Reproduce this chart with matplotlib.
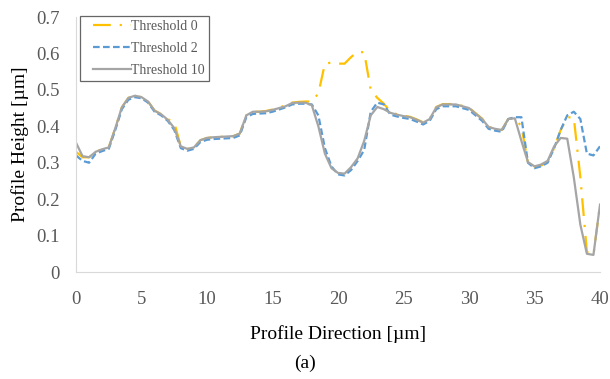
import matplotlib.pyplot as plt
from matplotlib.legend_handler import HandlerLine2D
import numpy as np

# Profile position (µm), sampled every 0.5 µm
x = np.arange(0, 40.5, 0.5)

# Threshold 10 (gray)
thr10 = [0.355, 0.318, 0.315, 0.330, 0.337, 0.342, 0.395, 0.452, 0.478, 0.484,
         0.480, 0.468, 0.443, 0.433, 0.418, 0.395, 0.345, 0.338, 0.342, 0.362,
         0.368, 0.370, 0.371, 0.372, 0.373, 0.380, 0.430, 0.440, 0.440, 0.441,
         0.445, 0.450, 0.455, 0.464, 0.465, 0.465, 0.458, 0.400, 0.325, 0.285,
         0.272, 0.270, 0.288, 0.312, 0.360, 0.430, 0.453, 0.447, 0.437, 0.432,
         0.428, 0.425, 0.418, 0.410, 0.420, 0.452, 0.460, 0.460, 0.460, 0.455,
         0.450, 0.435, 0.420, 0.398, 0.393, 0.390, 0.420, 0.422, 0.360, 0.302,
         0.290, 0.295, 0.305, 0.345, 0.368, 0.366, 0.260, 0.130, 0.050, 0.047,
         0.185]

# Threshold 0 (yellow)
thr0 = [0.330, 0.315, 0.315, 0.330, 0.337, 0.342, 0.395, 0.452, 0.478, 0.484,
        0.480, 0.468, 0.443, 0.433, 0.420, 0.410, 0.345, 0.338, 0.342, 0.362,
        0.368, 0.370, 0.371, 0.372, 0.373, 0.380, 0.430, 0.440, 0.440, 0.442,
        0.446, 0.452, 0.457, 0.465, 0.467, 0.468, 0.468, 0.490, 0.572, 0.575,
        0.572, 0.572, 0.590, 0.605, 0.603, 0.500, 0.478, 0.462, 0.440, 0.433,
        0.429, 0.426, 0.419, 0.411, 0.421, 0.453, 0.461, 0.461, 0.461, 0.456,
        0.451, 0.436, 0.421, 0.398, 0.393, 0.390, 0.420, 0.422, 0.400, 0.300,
        0.288, 0.292, 0.302, 0.340, 0.390, 0.425, 0.424, 0.260, 0.055, 0.047,
        0.185]

# Threshold 2 (blue)
thr2 = [0.320, 0.305, 0.300, 0.325, 0.332, 0.338, 0.390, 0.447, 0.473, 0.480,
        0.477, 0.465, 0.440, 0.430, 0.415, 0.390, 0.340, 0.333, 0.338, 0.357,
        0.363, 0.365, 0.366, 0.367, 0.368, 0.375, 0.425, 0.434, 0.435, 0.436,
        0.440, 0.446, 0.452, 0.460, 0.462, 0.462, 0.460, 0.430, 0.340, 0.290,
        0.268, 0.265, 0.280, 0.305, 0.335, 0.440, 0.465, 0.460, 0.432, 0.427,
        0.423, 0.420, 0.413, 0.405, 0.415, 0.447, 0.455, 0.455, 0.455, 0.450,
        0.445, 0.430, 0.415, 0.393, 0.388, 0.385, 0.420, 0.425, 0.425, 0.300,
        0.285, 0.290, 0.300, 0.340, 0.390, 0.430, 0.440, 0.420, 0.325, 0.320,
        0.345]

plt.rcParams['font.family'] = ['Liberation Serif', 'DejaVu Serif']

fig = plt.figure(figsize=(6.1, 3.79), dpi=100)
ax = fig.add_axes([0.1246, 0.2823, 0.859, 0.6728])

l0, = ax.plot(x, thr0, color='#FFC000', linewidth=1.6, linestyle=(0, (8, 4, 1, 4)), label='Threshold 0')
l2, = ax.plot(x, thr2, color='#5B9BD5', linewidth=1.6, linestyle=(0, (3, 1.5)), label='Threshold 2')
l10, = ax.plot(x, thr10, color='#A5A5A5', linewidth=1.6, linestyle='-', label='Threshold 10')

ax.set_xlim(0, 40)
ax.set_ylim(0, 0.7)
ax.set_xticks(np.arange(0, 41, 5))
ax.set_yticks(np.arange(0, 0.71, 0.1))
ax.set_yticklabels(['0', '0.1', '0.2', '0.3', '0.4', '0.5', '0.6', '0.7'])

for s in ['top', 'right']:
    ax.spines[s].set_visible(False)
ax.spines['left'].set_color('#D9D9D9')
ax.spines['bottom'].set_color('#D9D9D9')
ax.tick_params(length=0, labelsize=13.5, colors='#595959')
ax.tick_params(axis='x', pad=14)
ax.tick_params(axis='y', pad=12)

ax.set_xlabel('Profile Direction [µm]', fontsize=14, labelpad=12)
ax.set_ylabel('Profile Height [µm]', fontsize=14, labelpad=5)

# legend: handle line starts a bit in from the frame, like the original
hmap = {h: HandlerLine2D(xpad=0.62) for h in (l0, l2, l10)}
leg = ax.legend(loc='upper left', bbox_to_anchor=(0.131, 0.958), bbox_transform=fig.transFigure,
                borderaxespad=0, fontsize=10, frameon=True, fancybox=False, edgecolor='#404040',
                handlelength=3.4, borderpad=0.3, labelspacing=0.64, handletextpad=0.0,
                handler_map=hmap)
leg.get_frame().set_linewidth(0.9)
for t in leg.get_texts():
    t.set_color('#595959')

fig.text(0.5, 0.03, '(a)', ha='center', fontsize=14)

fig.savefig('out.png', dpi=100)
